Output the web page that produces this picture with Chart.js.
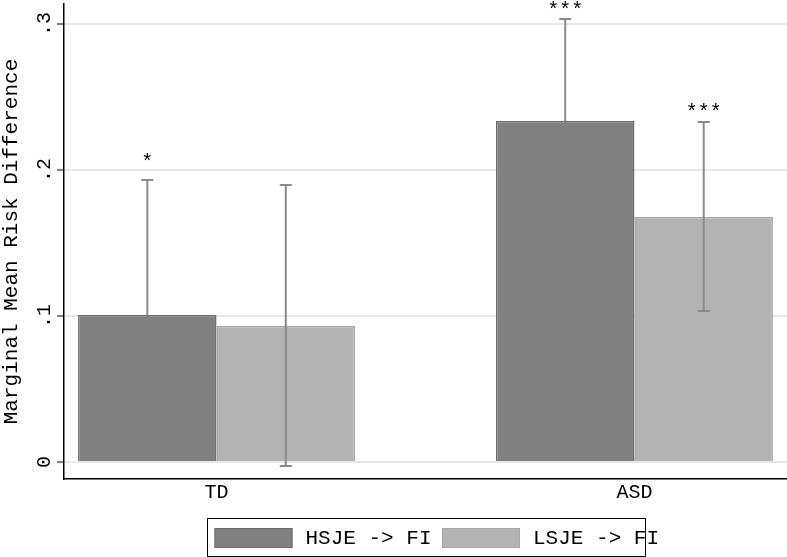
<!DOCTYPE html>
<html>
<head>
<meta charset="utf-8">
<script src="https://cdn.jsdelivr.net/npm/chart.js@4.4.0/dist/chart.umd.min.js"></script>
<style>
  html, body { margin: 0; padding: 0; background: #fff; }
  #wrap { width: 787px; height: 557px; position: relative; }
</style>
</head>
<body>
<div id="wrap"><canvas id="c"></canvas></div>
<script>
// ---- data ----
const categories = ["TD", "ASD"];
const categoryX = [1, 2];
const seriesNames = ["HSJE -> FI", "LSJE -> FI"];
const hsjeValues = [0.1007, 0.2336];
const lsjeValues = [0.0932, 0.1678];
const hsjeLow = [0.0082, 0.1638];
const hsjeHigh = [0.1932, 0.3034];
const lsjeLow = [-0.0027, 0.1034];
const lsjeHigh = [0.1897, 0.2329];
const hsjeStars = ["*", "***"];
const lsjeStars = ["", "***"];
const hsjeStarY = [0.2089, 0.3127];
const lsjeStarY = [null, 0.2432];
const yTicks = [0, 0.1, 0.2, 0.3];
const yTickLabels = ["0", ".1", ".2", ".3"];

const FONT = "'Liberation Mono', 'DejaVu Sans Mono', monospace";
const lows = [hsjeLow, lsjeLow];
const highs = [hsjeHigh, lsjeHigh];
const stars = [hsjeStars, lsjeStars];
const starYs = [hsjeStarY, lsjeStarY];

function drawErrorBars(chart, di) {
  const ctx = chart.ctx;
  const meta = chart.getDatasetMeta(di);
  const ys = chart.scales.y;
  ctx.save();
  ctx.strokeStyle = '#8a8a8a';
  ctx.lineWidth = 2;
  meta.data.forEach((bar, j) => {
    const x = bar.x;
    const yl = ys.getPixelForValue(lows[di][j]);
    const yh = ys.getPixelForValue(highs[di][j]);
    ctx.beginPath();
    ctx.moveTo(x, yl); ctx.lineTo(x, yh);
    ctx.moveTo(x - 6, yl); ctx.lineTo(x + 6, yl);
    ctx.moveTo(x - 6, yh); ctx.lineTo(x + 6, yh);
    ctx.stroke();
  });
  ctx.restore();
}

const errorBarPlugin = {
  id: 'errorBars',
  beforeDatasetDraw(chart, args) {
    if (args.index === 0) drawErrorBars(chart, 0);
  },
  afterDatasetDraw(chart, args) {
    if (args.index === 1) drawErrorBars(chart, 1);
  },
  afterDatasetsDraw(chart) {
    const ctx = chart.ctx;
    const ys = chart.scales.y;
    ctx.save();
    ctx.fillStyle = '#000';
    ctx.font = '20px ' + FONT;
    ctx.textAlign = 'center';
    ctx.textBaseline = 'alphabetic';
    [0, 1].forEach(di => {
      const meta = chart.getDatasetMeta(di);
      meta.data.forEach((bar, j) => {
        const s = stars[di][j];
        if (!s) return;
        const y = ys.getPixelForValue(starYs[di][j]);
        ctx.fillText(s, bar.x, y + 11);
      });
    });
    ctx.restore();
  }
};

const legendPlugin = {
  id: 'boxLegend',
  afterDraw(chart) {
    const ctx = chart.ctx;
    const ca = chart.chartArea;
    const boxW = 438, boxH = 38;
    const left = (ca.left + ca.right) / 2 - boxW / 2;
    const top = 518;
    ctx.save();
    ctx.strokeStyle = '#000';
    ctx.lineWidth = 1;
    ctx.strokeRect(Math.round(left) + 0.5, top + 0.5, boxW, boxH);
    ctx.font = '21px ' + FONT;
    ctx.textBaseline = 'middle';
    ctx.textAlign = 'left';
    let x = left + 8;
    chart.data.datasets.forEach((ds, i) => {
      ctx.fillStyle = ds.backgroundColor;
      ctx.fillRect(x, top + 10, 78, 20);
      ctx.strokeStyle = ds.borderColor;
      ctx.lineWidth = 1;
      ctx.strokeRect(x + 0.5, top + 10.5, 77, 19);
      ctx.fillStyle = '#000';
      ctx.fillText(ds.label, x + 78 + 13, top + 20);
      x += 78 + 13 + ctx.measureText(ds.label).width + 10.5;
    });
    ctx.restore();
  }
};

new Chart(document.getElementById('c'), {
  type: 'bar',
  data: {
    datasets: [
      {
        label: seriesNames[0],
        data: categoryX.map((x, i) => ({ x: x, y: hsjeValues[i] })),
        backgroundColor: '#808080',
        borderColor: '#6c6c6c',
        borderWidth: 1.5,
        categoryPercentage: 0.6627,
        barPercentage: 1.0
      },
      {
        label: seriesNames[1],
        data: categoryX.map((x, i) => ({ x: x, y: lsjeValues[i] })),
        backgroundColor: '#b3b3b3',
        borderColor: '#a6a6a6',
        borderWidth: 1.5,
        categoryPercentage: 0.6627,
        barPercentage: 1.0
      }
    ]
  },
  plugins: [errorBarPlugin, legendPlugin],
  options: {
    responsive: true,
    maintainAspectRatio: false,
    animation: false,
    layout: { padding: { top: 4, right: 0, left: 0, bottom: 0 } },
    plugins: {
      legend: { display: false },
      tooltip: { enabled: false }
    },
    scales: {
      x: {
        type: 'linear',
        min: 0.635,
        max: 2.365,
        offset: false,
        grid: { display: false, drawTicks: false, offset: false },
        border: { display: true, color: '#000', width: 1.5 },
        afterBuildTicks: s => { s.ticks = categoryX.map(v => ({ value: v })); },
        afterFit: s => { s.height = 78; s.paddingLeft = 0; s.paddingRight = 0; },
        ticks: {
          color: '#000',
          font: { family: FONT, size: 20 },
          padding: 2,
          maxRotation: 0,
          autoSkip: false,
          callback: v => { const i = categoryX.indexOf(v); return i >= 0 ? categories[i] : ''; }
        }
      },
      y: {
        min: -0.01164,
        max: 0.3137,
        afterBuildTicks: s => { s.ticks = yTicks.map(v => ({ value: v })); },
        afterFit: s => { s.width = 64; s.paddingTop = 0; s.paddingBottom = 0; },
        grid: {
          color: '#e8e8e8',
          lineWidth: 2,
          drawTicks: true,
          tickLength: 7,
          tickColor: '#000',
          tickWidth: 1
        },
        border: { display: true, color: '#000', width: 1.5 },
        ticks: {
          color: '#000',
          font: { family: FONT, size: 20 },
          padding: 0,
          minRotation: 90,
          maxRotation: 90,
          crossAlign: 'center',
          autoSkip: false,
          callback: v => { const i = yTicks.indexOf(v); return i >= 0 ? yTickLabels[i] : ''; }
        },
        title: {
          display: true,
          text: 'Marginal Mean Risk Difference',
          color: '#000',
          font: { family: FONT, size: 21 },
          padding: { top: -1, bottom: 0 }
        }
      }
    }
  }
});
</script>
</body>
</html>
